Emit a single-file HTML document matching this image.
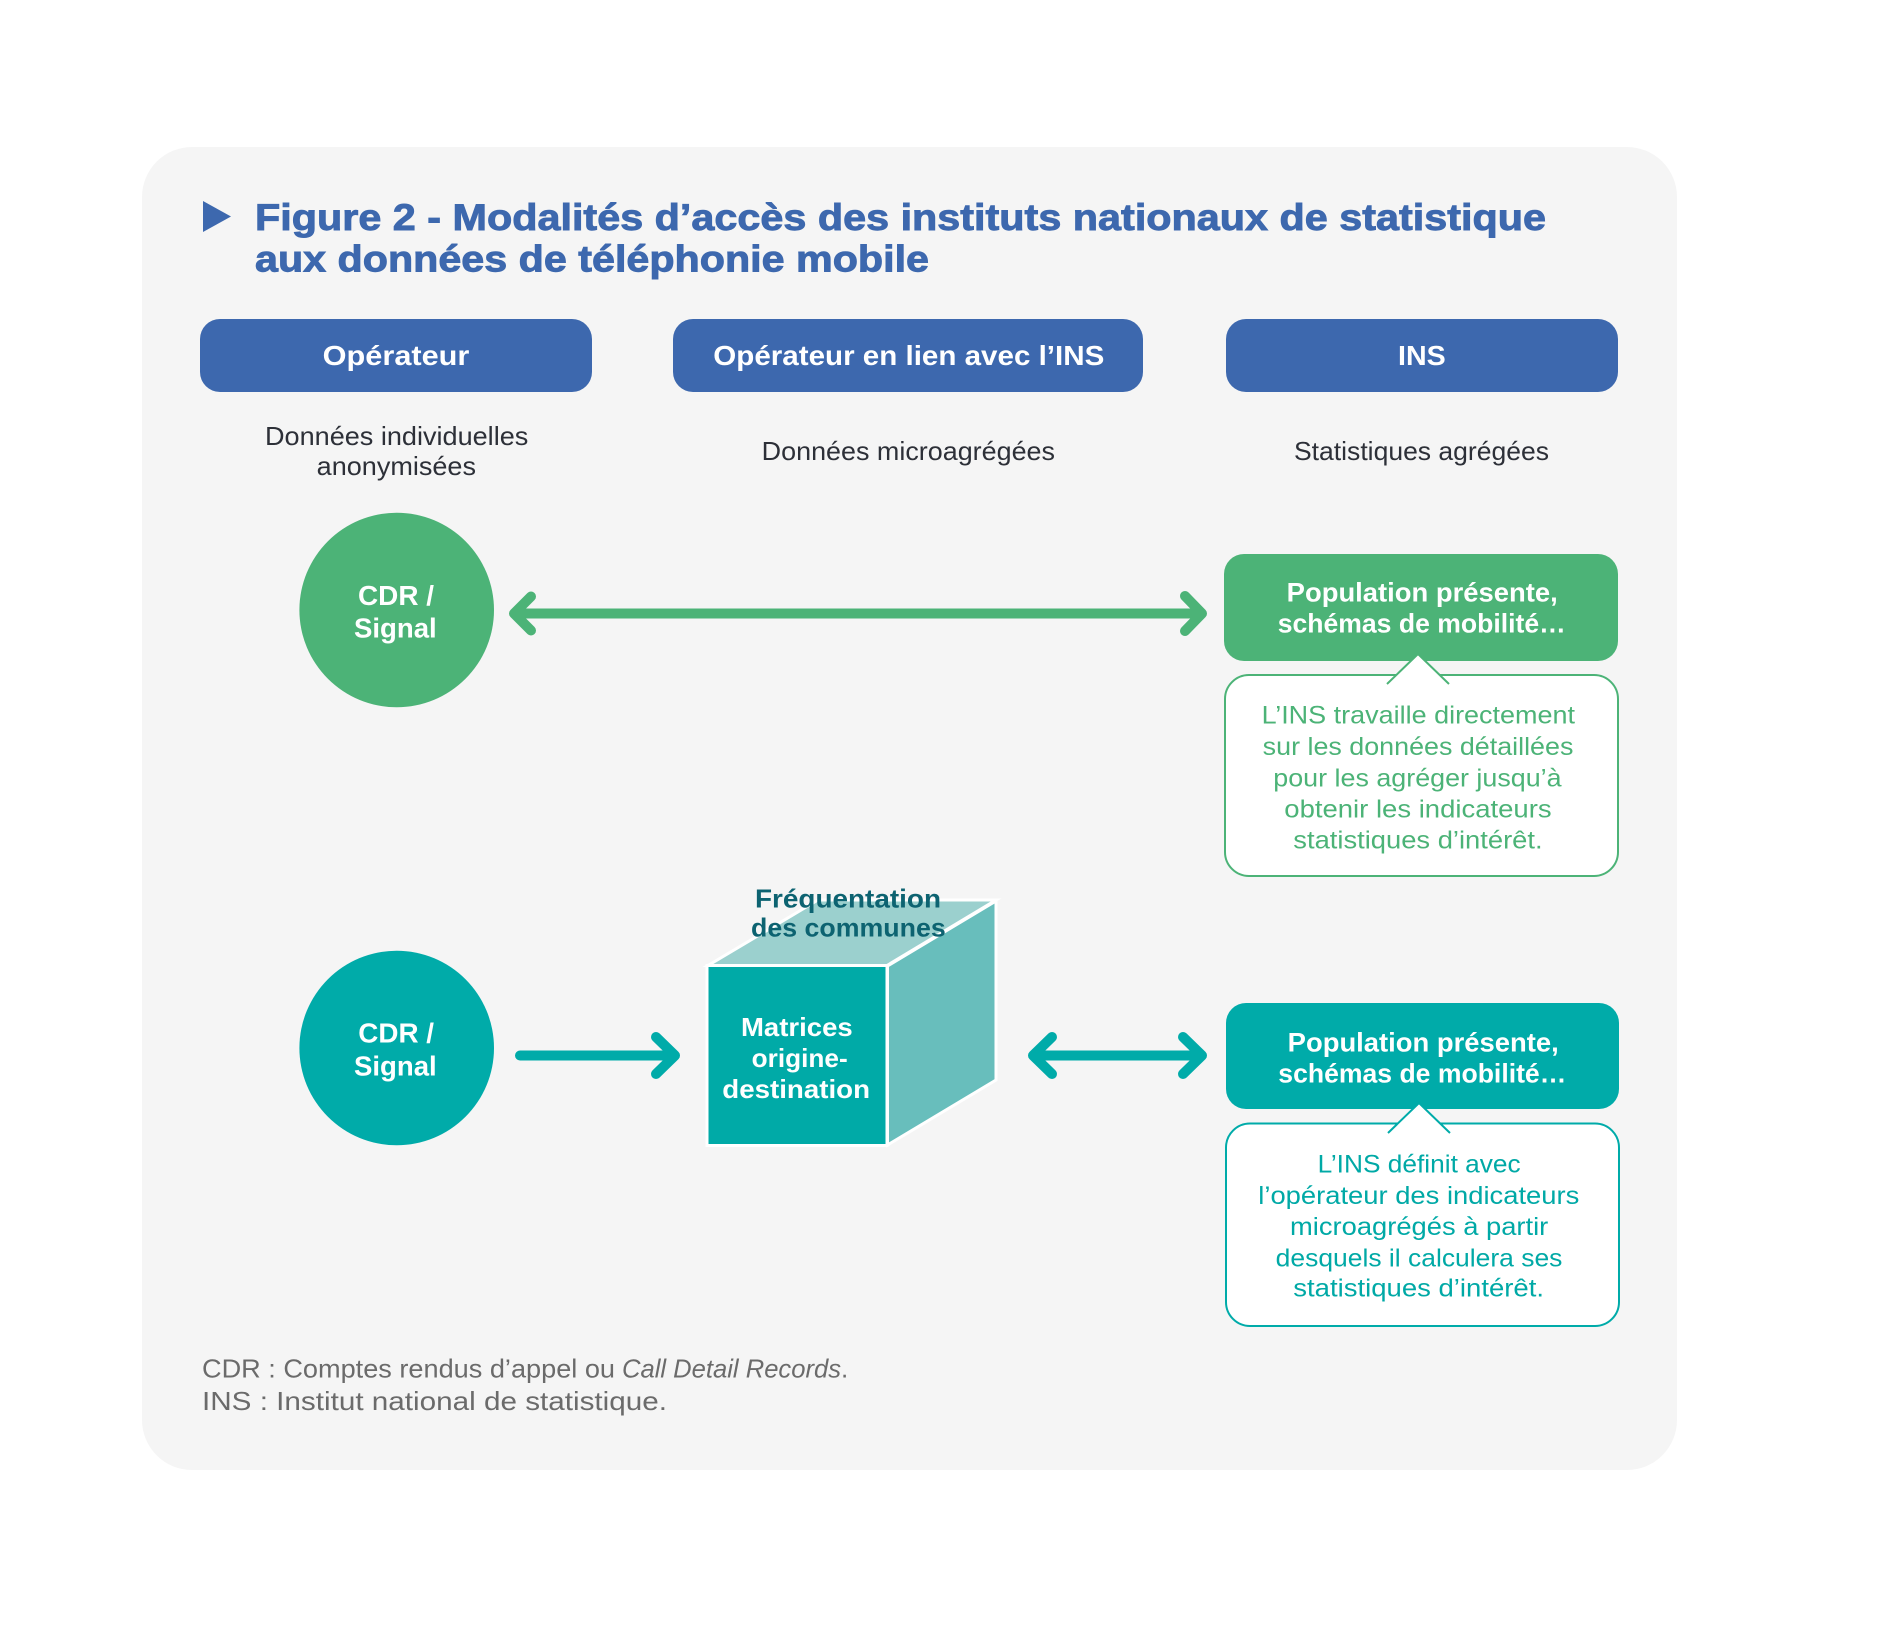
<!DOCTYPE html>
<html lang="fr">
<head>
<meta charset="utf-8">
<title>Figure 2 - Modalités d’accès des instituts nationaux de statistique</title>
<style>
  html, body { margin: 0; padding: 0; background: #ffffff; }
  svg { display: block; }
  text { font-family: "Liberation Sans", "DejaVu Sans", sans-serif; }
  .b { font-weight: bold; }
</style>
</head>
<body>
<svg xmlns="http://www.w3.org/2000/svg" width="1890" height="1627" viewBox="0 0 1890 1627">
  <!-- panel -->
  <rect x="142" y="147" width="1535" height="1323" rx="50" ry="50" fill="#F5F5F5"/>

  <!-- title -->
  <polygon points="203,201 231,216.5 203,232" fill="#3D68AE"/>
  <text x="255" y="230" class="b" font-size="37" fill="#3D68AE" stroke="#3D68AE" stroke-width="0.9" textLength="1291" lengthAdjust="spacingAndGlyphs">Figure 2 - Modalités d’accès des instituts nationaux de statistique</text>
  <text x="255" y="271.5" class="b" font-size="37" fill="#3D68AE" stroke="#3D68AE" stroke-width="0.9" textLength="674" lengthAdjust="spacingAndGlyphs">aux données de téléphonie mobile</text>

  <!-- column headers -->
  <rect x="200" y="319" width="392" height="73" rx="20" ry="20" fill="#3D68AE"/>
  <rect x="673" y="319" width="470" height="73" rx="20" ry="20" fill="#3D68AE"/>
  <rect x="1226" y="319" width="392" height="73" rx="20" ry="20" fill="#3D68AE"/>
  <text x="322.7" y="365" class="b" font-size="28" fill="#ffffff" textLength="146.7" lengthAdjust="spacingAndGlyphs">Opérateur</text>
  <text x="713.3" y="365" class="b" font-size="28" fill="#ffffff" textLength="391" lengthAdjust="spacingAndGlyphs">Opérateur en lien avec l’INS</text>
  <text x="1398" y="365" class="b" font-size="28" fill="#ffffff" textLength="47.7" lengthAdjust="spacingAndGlyphs">INS</text>

  <!-- sub labels -->
  <text x="265" y="445" font-size="26" fill="#2D3038" textLength="263.3" lengthAdjust="spacingAndGlyphs">Données individuelles</text>
  <text x="316.7" y="475" font-size="26" fill="#2D3038" textLength="159.3" lengthAdjust="spacingAndGlyphs">anonymisées</text>
  <text x="761.7" y="460" font-size="26" fill="#2D3038" textLength="293.3" lengthAdjust="spacingAndGlyphs">Données microagrégées</text>
  <text x="1294" y="460" font-size="26" fill="#2D3038" textLength="255" lengthAdjust="spacingAndGlyphs">Statistiques agrégées</text>

  <!-- ===== Green row ===== -->
  <circle cx="396.7" cy="610" r="97.3" fill="#4CB377"/>
  <text x="358" y="605" class="b" font-size="28" fill="#ffffff" textLength="76" lengthAdjust="spacingAndGlyphs">CDR /</text>
  <text x="354" y="637.3" class="b" font-size="28" fill="#ffffff" textLength="82.7" lengthAdjust="spacingAndGlyphs">Signal</text>

  <g stroke="#4CB377" stroke-width="10" stroke-linecap="round" stroke-linejoin="round" fill="none">
    <line x1="516" y1="613.5" x2="1200" y2="613.5"/>
    <polyline points="531,596.5 514,613.5 531,630.5"/>
    <polyline points="1185,596 1202,613.5 1185,631"/>
  </g>

  <!-- green callout -->
  <rect x="1225" y="675" width="393" height="201" rx="24" ry="24" fill="#ffffff" stroke="#4CB377" stroke-width="2"/>
  <rect x="1224" y="554" width="394" height="107" rx="20" ry="20" fill="#4CB377"/>
  <polygon points="1387,684 1418,654 1449,684" fill="#ffffff"/>
  <polyline points="1387,684 1418,654 1449,684" fill="none" stroke="#4CB377" stroke-width="2"/>
  <text x="1286.7" y="601.7" class="b" font-size="26.5" fill="#ffffff" textLength="271" lengthAdjust="spacingAndGlyphs">Population présente,</text>
  <text x="1277.7" y="632.3" class="b" font-size="26.5" fill="#ffffff" textLength="288" lengthAdjust="spacingAndGlyphs">schémas de mobilité…</text>

  <g font-size="25" fill="#4CB377">
    <text x="1261.7" y="723.3" textLength="313.3" lengthAdjust="spacingAndGlyphs">L’INS travaille directement</text>
    <text x="1262.7" y="755" textLength="310.7" lengthAdjust="spacingAndGlyphs">sur les données détaillées</text>
    <text x="1273.3" y="786.5" textLength="288.3" lengthAdjust="spacingAndGlyphs">pour les agréger jusqu’à</text>
    <text x="1284.3" y="817.3" textLength="267.3" lengthAdjust="spacingAndGlyphs">obtenir les indicateurs</text>
    <text x="1293.3" y="848.3" textLength="249.3" lengthAdjust="spacingAndGlyphs">statistiques d’intérêt.</text>
  </g>

  <!-- ===== Teal row ===== -->
  <circle cx="396.7" cy="1048" r="97.3" fill="#00ABA9"/>
  <text x="358.3" y="1042.3" class="b" font-size="28" fill="#ffffff" textLength="75.7" lengthAdjust="spacingAndGlyphs">CDR /</text>
  <text x="354" y="1075.7" class="b" font-size="28" fill="#ffffff" textLength="82.7" lengthAdjust="spacingAndGlyphs">Signal</text>

  <g stroke="#00ABA9" stroke-width="10" stroke-linecap="round" stroke-linejoin="round" fill="none">
    <line x1="520" y1="1055.5" x2="673" y2="1055.5"/>
    <polyline points="656,1037 675,1055.5 656,1074"/>
    <line x1="1035" y1="1055.5" x2="1200" y2="1055.5"/>
    <polyline points="1052,1037 1033,1055.5 1052,1074"/>
    <polyline points="1183,1037 1202,1055.5 1183,1074"/>
  </g>

  <!-- cube -->
  <g stroke="#ffffff" stroke-width="3" stroke-linejoin="miter">
    <polygon points="708,965.5 887,965.5 996,900 818,900" fill="#9BD0CE"/>
    <polygon points="887.5,966 996,901 996,1080 887.5,1145" fill="#68BEBC"/>
    <rect x="707" y="965.5" width="180" height="180" fill="#00AAA7"/>
  </g>
  <text x="755" y="907.3" class="b" font-size="26" fill="#0D6371" textLength="186" lengthAdjust="spacingAndGlyphs">Fréquentation</text>
  <text x="751" y="936.7" class="b" font-size="26" fill="#0D6371" textLength="194.7" lengthAdjust="spacingAndGlyphs">des communes</text>
  <text x="741" y="1036" class="b" font-size="26" fill="#ffffff" textLength="111.7" lengthAdjust="spacingAndGlyphs">Matrices</text>
  <text x="751.7" y="1067" class="b" font-size="26" fill="#ffffff" textLength="96" lengthAdjust="spacingAndGlyphs">origine-</text>
  <text x="722.3" y="1098" class="b" font-size="26" fill="#ffffff" textLength="147.7" lengthAdjust="spacingAndGlyphs">destination</text>

  <!-- teal callout -->
  <rect x="1226" y="1123.5" width="393" height="202.5" rx="24" ry="24" fill="#ffffff" stroke="#00ABA9" stroke-width="2"/>
  <rect x="1226" y="1003" width="393" height="106" rx="20" ry="20" fill="#00ABA9"/>
  <polygon points="1388,1133 1419,1103 1450,1133" fill="#ffffff"/>
  <polyline points="1388,1133 1419,1103 1450,1133" fill="none" stroke="#00ABA9" stroke-width="2"/>
  <text x="1287.7" y="1051.7" class="b" font-size="26.5" fill="#ffffff" textLength="271" lengthAdjust="spacingAndGlyphs">Population présente,</text>
  <text x="1278.3" y="1082.7" class="b" font-size="26.5" fill="#ffffff" textLength="288" lengthAdjust="spacingAndGlyphs">schémas de mobilité…</text>

  <g font-size="25" fill="#00A9A6">
    <text x="1317.7" y="1172.7" textLength="203" lengthAdjust="spacingAndGlyphs">L’INS définit avec</text>
    <text x="1258.3" y="1204" textLength="321" lengthAdjust="spacingAndGlyphs">l’opérateur des indicateurs</text>
    <text x="1290" y="1235" textLength="258.3" lengthAdjust="spacingAndGlyphs">microagrégés à partir</text>
    <text x="1275.7" y="1266.7" textLength="286.7" lengthAdjust="spacingAndGlyphs">desquels il calculera ses</text>
    <text x="1293.3" y="1296.7" textLength="250.7" lengthAdjust="spacingAndGlyphs">statistiques d’intérêt.</text>
  </g>

  <!-- footer notes -->
  <text x="202" y="1377.7" font-size="26" fill="#6B6B6B" textLength="413" lengthAdjust="spacingAndGlyphs">CDR : Comptes rendus d’appel ou</text>
  <text x="622" y="1377.7" font-size="26" fill="#6B6B6B" font-style="italic" textLength="219" lengthAdjust="spacingAndGlyphs">Call Detail Records</text>
  <text x="841" y="1377.7" font-size="26" fill="#6B6B6B">.</text>
  <text x="202" y="1410" font-size="26" fill="#6B6B6B" textLength="465" lengthAdjust="spacingAndGlyphs">INS : Institut national de statistique.</text>
</svg>
</body>
</html>
